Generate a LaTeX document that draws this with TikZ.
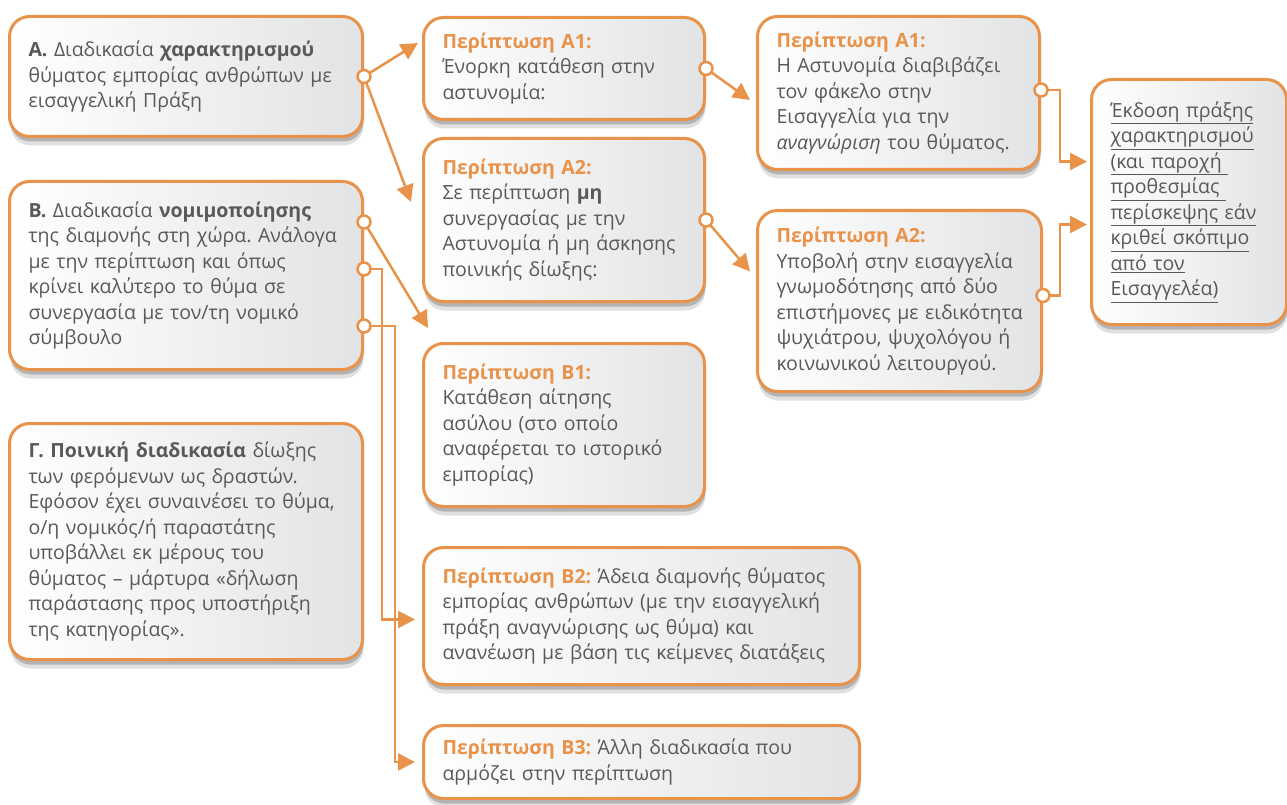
\documentclass[tikz,border=0pt]{standalone}
\usepackage{fontspec}
\setmainfont{Open Sans}
\usetikzlibrary{arrows.meta,calc,shadows}
\frenchspacing

\definecolor{caseorange}{RGB}{232,146,74}
\definecolor{casetext}{RGB}{88,89,91}
\definecolor{casefill}{RGB}{226,227,229}

\newcommand{\casehead}[1]{{\color{caseorange}\bfseries #1}}
\newcommand{\caseline}[1]{\underline{#1}}

\tikzset{
  stage/.style={draw=caseorange, line width=3pt, rounded corners=20pt,
    left color=white, right color=casefill, text=casetext,
    drop shadow={shadow xshift=1pt, shadow yshift=-9pt, opacity=.12, fill=black},
    drop shadow={shadow xshift=1pt, shadow yshift=-5pt, opacity=.2, fill=black},
    anchor=north west, align=left, inner xsep=19pt, inner ysep=6pt,
    font=\fontsize{19.5}{25.5}\selectfont},
  link/.style={draw=caseorange, line width=2.5pt, -{Triangle[length=17pt,width=17pt]}},
  port/.style={circle, draw=caseorange, fill=white, line width=2.5pt,
    minimum size=13pt, inner sep=0pt},
}

\begin{document}
\begin{tikzpicture}[x=1pt, y=-1pt]
  \useasboundingbox (0,0) rectangle (1287,805);

  % left column: the three procedures
  \node[stage, minimum width=353pt, minimum height=120pt, text width=315pt] (procA) at (8,15)
    {\textbf{Α.} Διαδικασία \textbf{χαρακτηρισμού}\\ θύματος εμπορίας ανθρώπων με\\ εισαγγελική Πράξη};
  \node[stage, minimum width=353pt, minimum height=188pt, text width=315pt] (procB) at (8,180)
    {\textbf{Β.} Διαδικασία \textbf{νομιμοποίησης}\\ της διαμονής στη χώρα. Ανάλογα\\ με την περίπτωση και όπως\\
     κρίνει καλύτερο το θύμα σε\\ συνεργασία με τον/τη νομικό\\ σύμβουλο};
  \node[stage, minimum width=353pt, minimum height=236pt, text width=315pt] (procG) at (8,422)
    {\textbf{Γ. Ποινική διαδικασία} δίωξης\\ των φερόμενων ως δραστών.\\ Εφόσον έχει συναινέσει το θύμα,\\
     ο/η νομικός/ή παραστάτης\\ υποβάλλει εκ μέρους του\\ θύματος – μάρτυρα «δήλωση\\
     παράστασης προς υποστήριξη\\ της κατηγορίας».};

  % middle column: the cases
  \node[stage, minimum width=281pt, minimum height=102pt, text width=243pt] (caseA1) at (422,16)
    {\casehead{Περίπτωση Α1:}\\ Ένορκη κατάθεση στην\\ αστυνομία:};
  \node[stage, minimum width=281pt, minimum height=163pt, text width=243pt] (caseA2) at (422,137)
    {\casehead{Περίπτωση Α2:}\\ Σε περίπτωση \textbf{μη}\\ συνεργασίας με την\\ Αστυνομία ή μη άσκησης\\ ποινικής δίωξης:};
  \node[stage, minimum width=281pt, minimum height=163pt, text width=243pt] (caseB1) at (422,342)
    {\casehead{Περίπτωση Β1:}\\ Κατάθεση αίτησης\\ ασύλου (στο οποίο\\ αναφέρεται το ιστορικό\\ εμπορίας)};
  \node[stage, minimum width=436pt, minimum height=137pt, text width=398pt] (caseB2) at (422,546)
    {\casehead{Περίπτωση Β2:} Άδεια διαμονής θύματος\\ εμπορίας ανθρώπων (με την εισαγγελική\\
     πράξη αναγνώρισης ως θύμα) και\\ ανανέωση με βάση τις κείμενες διατάξεις};
  \node[stage, minimum width=436pt, minimum height=73pt, text width=398pt] (caseB3) at (422,724)
    {\casehead{Περίπτωση Β3:} Άλλη διαδικασία που\\ αρμόζει στην περίπτωση};

  % right column
  \node[stage, minimum width=282pt, minimum height=153pt, text width=244pt] (stepA1) at (756,15)
    {\casehead{Περίπτωση Α1:}\\ Η Αστυνομία διαβιβάζει\\ τον φάκελο στην\\ Εισαγγελία για την\\
     \textit{αναγνώριση} του θύματος.};
  \node[stage, minimum width=284pt, minimum height=181pt, text width=246pt] (stepA2) at (756,209)
    {\casehead{Περίπτωση Α2:}\\ Υποβολή στην εισαγγελία\\ γνωμοδότησης από δύο\\ \mbox{επιστήμονες με ειδικότητα}\\
     ψυχιάτρου, ψυχολόγου ή\\ κοινωνικού λειτουργού.};
  \node[stage, minimum width=195pt, minimum height=245pt, text width=157pt] (finalAct) at (1090,78)
    {\caseline{Έκδοση πράξης}\\ \caseline{χαρακτηρισμού}\\ \caseline{(και παροχή\ }\\ \caseline{προθεσμίας\ }\\
     \caseline{περίσκεψης εάν}\\ \caseline{κριθεί σκόπιμο}\\ \caseline{από τον}\\ \caseline{Εισαγγελέα)}};

  % connector ends
  \coordinate (pA)  at (procA.east);
  \coordinate (pB1) at ($(procB.north east)+(0,42)$);
  \coordinate (pB2) at ($(procB.north east)+(0,89)$);
  \coordinate (pB3) at ($(procB.north east)+(0,146)$);
  \coordinate (pA1) at (caseA1.east);
  \coordinate (pA2) at (caseA2.east);
  \coordinate (pS1) at ($(stepA1.east)+(0,-3)$);
  \coordinate (pS2) at ($(stepA2.east)+(0,-5.5)$);

  \coordinate (eA1) at ($(caseA1.north west)+(-4,27)$);
  \coordinate (eA2) at ($(caseA2.north west)+(-11,65)$);
  \coordinate (eB1) at ($(caseB1.north west)+(6,-14)$);
  \coordinate (eB2) at ($(caseB2.west)+(-7,3.5)$);
  \coordinate (eB3) at ($(caseB3.west)+(-7,0)$);
  \coordinate (eS1) at ($(stepA1.west)+(-6,7)$);
  \coordinate (eS2) at ($(stepA2.west)+(-6,-29.5)$);
  \coordinate (eF1) at ($(finalAct.west)+(-3,-40.5)$);
  \coordinate (eF2) at ($(finalAct.west)+(-3,22.5)$);

  % connectors
  \draw[link] (pA) -- (eA1);
  \draw[link] (pA) -- (eA2);
  \draw[link] (pA1) -- (eS1);
  \draw[link] (pA2) -- (eS2);
  \draw[link] (pB1) -- (eB1);
  \draw[link] (pB2) -- ++(18,0) |- (eB2);
  \draw[link] (pB3) -- ++(31,0) |- (eB3);
  \draw[link] (pS1) -- ++(19,0) |- (eF1);
  \draw[link] (pS2) -- ++(17,0) |- (eF2);

  \foreach \p in {pA,pA1,pA2,pB1,pB2,pB3,pS1,pS2}
    \node[port] (\p-dot) at (\p) {};
\end{tikzpicture}
\end{document}
